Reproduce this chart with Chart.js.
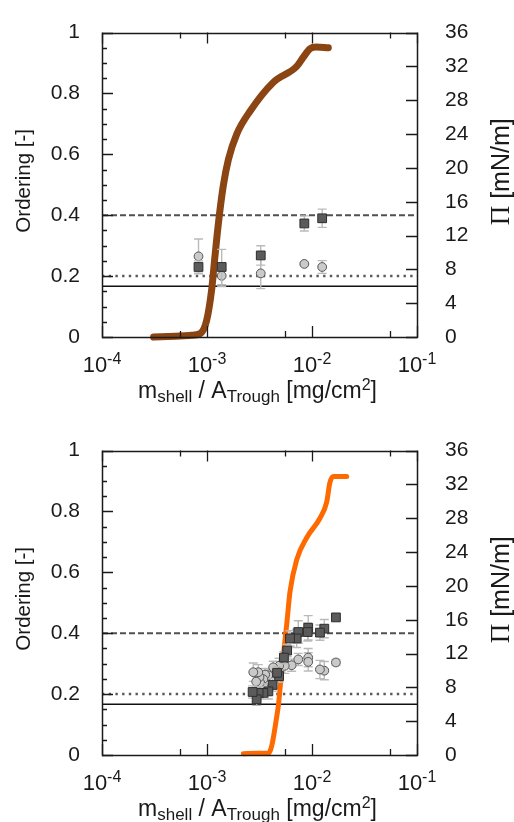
<!DOCTYPE html>
<html>
<head>
<meta charset="utf-8">
<script src="https://cdn.jsdelivr.net/npm/chart.js@4.4.1/dist/chart.umd.min.js"></script>
<style>
  html, body { margin: 0; padding: 0; background: #fff; }
  #wrap { position: relative; width: 514px; height: 822px; overflow: hidden; }
  .panel { position: absolute; left: 0; width: 514px; height: 410px; }
</style>
</head>
<body>
<div id="wrap">
  <div class="panel" style="top:0"><canvas id="c1" width="514" height="410"></canvas></div>
  <div class="panel" style="top:418px"><canvas id="c2" width="514" height="410"></canvas></div>
</div>
<script>
// ---- axis ticks ----
const xMajorTicks = [1e-4, 1e-3, 1e-2, 1e-1];
const xTickExponents = ['-4', '-3', '-2', '-1'];
const xMinorTicks = [5.5e-4, 5.5e-3, 5.5e-2];
const orderingMinorTicks = [0.05, 0.1, 0.15, 0.25, 0.3, 0.35, 0.45, 0.5, 0.55, 0.65, 0.7, 0.75, 0.85, 0.9, 0.95];

// ---- reference ordering levels ----
const levelDashed = 0.4;
const levelDotted = 0.2;
const levelSolid = 0.1667;

// ---- upper panel: isotherm (Pi vs area loading) ----
const isoTopArea = [3.1e-4, 5e-4, 7e-4, 8.6e-4, 9.9e-4, 1.11e-3, 1.19e-3, 1.28e-3, 1.43e-3, 1.6e-3, 1.92e-3, 2.57e-3, 4.27e-3, 7.15e-3, 8.27e-3, 9.56e-3, 1.1e-2, 1.43e-2];
const isoTopPi   = [0, 0.1, 0.2, 0.4, 1.9, 5.7, 9.5, 13.3, 17.9, 21.0, 24.0, 26.7, 30.1, 32.0, 33.1, 34.1, 34.3, 34.2];

// ---- upper panel: ordering (squares / circles) ----
const sqTopX   = [8.3e-4, 1.38e-3, 3.25e-3, 8.45e-3, 1.25e-2];
const sqTopY   = [0.230, 0.230, 0.268, 0.373, 0.390];
const sqTopErr = [0.020, 0.058, 0.032, 0.025, 0.030];
const ciTopX   = [8.3e-4, 1.38e-3, 3.25e-3, 8.45e-3, 1.25e-2];
const ciTopY   = [0.265, 0.201, 0.209, 0.240, 0.230];
const ciTopErr = [0.057, 0.035, 0.050, 0.004, 0.021];

// ---- lower panel: isotherm ----
const isoBotArea = [2.22e-3, 3.0e-3, 3.84e-3, 4.13e-3, 4.61e-3, 4.8e-3, 5.0e-3, 5.33e-3, 5.75e-3, 6.17e-3, 7.15e-3, 8.9e-3, 1.19e-2, 1.38e-2, 1.48e-2, 1.6e-2, 2.14e-2];
const isoBotPi   = [0.15, 0.2, 0.2, 1.06, 4.5, 6.0, 8.3, 11.7, 15.5, 19.3, 23.1, 25.7, 28.0, 29.9, 32.2, 32.95, 32.95];

// ---- lower panel: ordering ----
const sqBotX   = [1.69e-2, 1.31e-2, 1.19e-2, 9.2e-3, 9.1e-3, 7.4e-3, 7.15e-3, 6.17e-3, 5.8e-3, 5.4e-3, 4.86e-3, 4.65e-3, 4.22e-3, 3.84e-3, 3.44e-3, 3.1e-3, 2.97e-3, 2.72e-3];
const sqBotY   = [0.452, 0.415, 0.402, 0.418, 0.404, 0.404, 0.383, 0.383, 0.343, 0.320, 0.259, 0.270, 0.230, 0.209, 0.204, 0.204, 0.183, 0.207];
const sqBotErr = [0.010, 0.030, 0.025, 0.040, 0.030, 0.037, 0.030, 0.025, 0.020, 0.020, 0.020, 0.020, 0.020, 0.025, 0.020, 0.020, 0.020, 0.020];
const ciBotX   = [1.69e-2, 1.31e-2, 1.19e-2, 9.2e-3, 9.2e-3, 7.4e-3, 6.4e-3, 5.5e-3, 4.86e-3, 4.78e-3, 4.27e-3, 3.84e-3, 3.58e-3, 3.44e-3, 3.44e-3, 3.2e-3, 3.16e-3, 3.08e-3, 2.94e-3, 2.76e-3];
const ciBotY   = [0.304, 0.277, 0.281, 0.320, 0.306, 0.314, 0.295, 0.293, 0.293, 0.272, 0.288, 0.262, 0.264, 0.249, 0.225, 0.238, 0.256, 0.272, 0.241, 0.272];
const ciBotErr = [0.010, 0.030, 0.030, 0.030, 0.030, 0.020, 0.020, 0.025, 0.025, 0.020, 0.020, 0.020, 0.020, 0.025, 0.020, 0.020, 0.020, 0.025, 0.020, 0.030];

const SANS = "'Liberation Sans', Arial, sans-serif";
const SERIF = "'Liberation Serif', 'Times New Roman', serif";
const INK = '#1a1a1a';

const toPoints = (xs, ys) => xs.map((x, i) => ({ x: x, y: ys[i] }));

// vertical error bars drawn just before their marker dataset
const errorBars = {
  id: 'errorBars',
  beforeDatasetDraw(chart, args) {
    const ds = chart.data.datasets[args.index];
    if (!ds.errors) return;
    const { ctx } = chart;
    const xs = chart.scales.x, ys = chart.scales.y;
    ctx.save();
    ctx.strokeStyle = '#b9bbb9';
    ctx.lineWidth = 1.4;
    ctx.beginPath();
    ds.data.forEach((p, i) => {
      const e = ds.errors[i];
      const px = xs.getPixelForValue(p.x);
      const pTop = ys.getPixelForValue(p.y + e);
      const pBot = ys.getPixelForValue(p.y - e);
      ctx.moveTo(px, pTop); ctx.lineTo(px, pBot);
      ctx.moveTo(px - 4.5, pTop); ctx.lineTo(px + 4.5, pTop);
      ctx.moveTo(px - 4.5, pBot); ctx.lineTo(px + 4.5, pBot);
    });
    ctx.stroke();
    ctx.restore();
  }
};

// frame, inward tick marks, log-axis labels and axis titles
const frameAndLabels = {
  id: 'frameAndLabels',
  afterDatasetsDraw(chart) {
    const { ctx, chartArea: a, scales } = chart;
    const xs = scales.x, ys = scales.y, y2 = scales.y2;
    ctx.save();
    ctx.strokeStyle = INK;
    ctx.lineWidth = 1.3;
    ctx.beginPath();
    const seg = (x0, y0, x1, y1) => { ctx.moveTo(x0, y0); ctx.lineTo(x1, y1); };
    xMajorTicks.forEach(v => {
      const px = Math.round(xs.getPixelForValue(v)) + 0.5;
      seg(px, a.bottom, px, a.bottom - 11); seg(px, a.top, px, a.top + 11);
    });
    xMinorTicks.forEach(v => {
      const px = Math.round(xs.getPixelForValue(v)) + 0.5;
      seg(px, a.bottom, px, a.bottom - 6); seg(px, a.top, px, a.top + 6);
    });
    ys.ticks.forEach(t => {
      const py = Math.round(ys.getPixelForValue(t.value)) + 0.5;
      seg(a.left, py, a.left + 11, py);
    });
    orderingMinorTicks.forEach(v => {
      const py = Math.round(ys.getPixelForValue(v)) + 0.5;
      seg(a.left, py, a.left + 5, py);
    });
    y2.ticks.forEach(t => {
      const py = Math.round(y2.getPixelForValue(t.value)) + 0.5;
      seg(a.right, py, a.right - 11, py);
    });
    ctx.stroke();
    ctx.lineWidth = 1.5;
    ctx.strokeRect(Math.round(a.left) + 0.5, Math.round(a.top) + 0.5, Math.round(a.width), Math.round(a.height));

    // x tick labels: 10 with a raised exponent
    ctx.fillStyle = INK;
    ctx.textBaseline = 'alphabetic';
    ctx.textAlign = 'left';
    const base = a.bottom + 35;
    xMajorTicks.forEach((v, i) => {
      const px = xs.getPixelForValue(v);
      ctx.font = '22px ' + SANS;
      const w1 = ctx.measureText('10').width;
      ctx.font = '16px ' + SANS;
      const w2 = ctx.measureText(xTickExponents[i]).width;
      const left = px - (w1 + w2) / 2;
      ctx.font = '22px ' + SANS;
      ctx.fillText('10', left, base);
      ctx.font = '16px ' + SANS;
      ctx.fillText(xTickExponents[i], left + w1, base - 8);
    });

    // x axis title with sub/superscripts
    const parts = [
      { t: 'm', s: 23, dy: 0 },
      { t: 'shell', s: 17, dy: 4 },
      { t: ' / A', s: 23, dy: 0 },
      { t: 'Trough', s: 17, dy: 4 },
      { t: ' [mg/cm', s: 23, dy: 0 },
      { t: '2', s: 16, dy: -8 },
      { t: ']', s: 23, dy: 0 }
    ];
    let total = 0;
    parts.forEach(p => { ctx.font = p.s + 'px ' + SANS; p.w = ctx.measureText(p.t).width; total += p.w; });
    let cx = (a.left + a.right) / 2 - total / 2 - 2;
    const tBase = a.bottom + 61;
    parts.forEach(p => { ctx.font = p.s + 'px ' + SANS; ctx.fillText(p.t, cx, tBase + p.dy); cx += p.w; });

    // left title
    ctx.save();
    ctx.translate(30, (a.top + a.bottom) / 2 - 4);
    ctx.rotate(-Math.PI / 2);
    ctx.textAlign = 'center';
    ctx.font = '20.5px ' + SANS;
    ctx.fillText('Ordering [-]', 0, 0);
    ctx.restore();

    // right title: Pi [mN/m]
    ctx.save();
    ctx.translate(509, (a.top + a.bottom) / 2 - 13);
    ctx.rotate(-Math.PI / 2);
    ctx.font = '27px ' + SERIF;
    const wPi = ctx.measureText('\u03A0').width;
    ctx.font = '25px ' + SANS;
    const wRest = ctx.measureText(' [mN/m]').width;
    const start = -(wPi + wRest) / 2;
    ctx.font = '27px ' + SERIF;
    ctx.fillText('\u03A0', start, 0);
    ctx.font = '25px ' + SANS;
    ctx.fillText(' [mN/m]', start + wPi, 0);
    ctx.restore();

    ctx.restore();
  }
};

function levelLine(value, dash, color, width) {
  return {
    type: 'line',
    data: [{ x: 1e-4, y: value }, { x: 1e-1, y: value }],
    yAxisID: 'y',
    borderColor: color,
    borderWidth: width,
    borderDash: dash,
    borderCapStyle: 'butt',
    pointRadius: 0,
    order: 10
  };
}

function makePanel(canvasId, isoArea, isoPi, isoColor, isoWidth, sqX, sqY, sqErr, ciX, ciY, ciErr) {
  return new Chart(document.getElementById(canvasId), {
    data: {
      datasets: [
        levelLine(levelDashed, [6, 3], '#505050', 2),
        levelLine(levelDotted, [2.4, 4.3], '#5a5a5a', 2.5),
        levelLine(levelSolid, [], '#111111', 1.3),
        {
          type: 'line',
          data: toPoints(isoArea, isoPi),
          yAxisID: 'y2',
          borderColor: isoColor,
          borderWidth: isoWidth,
          borderCapStyle: 'round',
          borderJoinStyle: 'round',
          cubicInterpolationMode: 'monotone',
          pointRadius: 0,
          clip: 8,
          order: 5
        },
        {
          type: 'scatter',
          data: toPoints(ciX, ciY),
          errors: ciErr,
          yAxisID: 'y',
          pointStyle: 'circle',
          pointRadius: 4.4,
          backgroundColor: '#cacaca',
          borderColor: '#555555',
          borderWidth: 1,
          order: 3
        },
        {
          type: 'scatter',
          data: toPoints(sqX, sqY),
          errors: sqErr,
          yAxisID: 'y',
          pointStyle: 'rect',
          pointRadius: 6.2,
          backgroundColor: '#5b5b5b',
          borderColor: '#2e2e2e',
          borderWidth: 1,
          order: 2
        }
      ]
    },
    options: {
      responsive: false,
      animation: false,
      events: [],
      layout: { padding: { top: 22, left: 0, right: 0, bottom: 6 } },
      plugins: { legend: { display: false }, tooltip: { enabled: false } },
      scales: {
        x: {
          type: 'logarithmic',
          position: 'bottom',
          min: 1e-4,
          max: 1e-1,
          grid: { display: false },
          border: { display: false },
          ticks: { display: false },
          afterFit(s) { s.height = 67; }
        },
        y: {
          type: 'linear',
          position: 'left',
          min: 0,
          max: 1,
          grid: { display: false },
          border: { display: false },
          ticks: {
            stepSize: 0.2, padding: 14, color: INK, font: { size: 21, family: SANS },
            callback: v => String(Math.round(v * 10) / 10)
          },
          afterFit(s) { s.width = 102; }
        },
        y2: {
          type: 'linear',
          position: 'right',
          min: 0,
          max: 36,
          grid: { display: false },
          border: { display: false },
          ticks: { stepSize: 4, padding: 20, color: INK, font: { size: 21, family: SANS } },
          afterFit(s) { s.width = 97; }
        }
      }
    },
    plugins: [errorBars, frameAndLabels]
  });
}

makePanel('c1', isoTopArea, isoTopPi, '#8b4513', 7, sqTopX, sqTopY, sqTopErr, ciTopX, ciTopY, ciTopErr);
makePanel('c2', isoBotArea, isoBotPi, '#ff6a00', 5, sqBotX, sqBotY, sqBotErr, ciBotX, ciBotY, ciBotErr);
</script>
</body>
</html>
